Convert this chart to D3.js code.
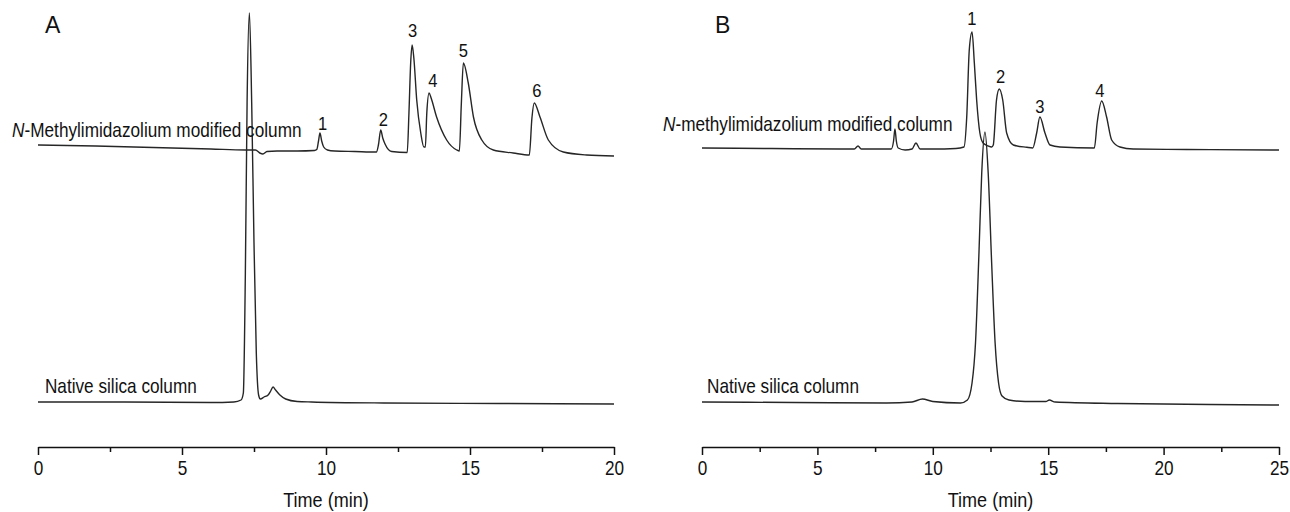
<!DOCTYPE html>
<html>
<head>
<meta charset="utf-8">
<script src="https://cdn.jsdelivr.net/npm/d3@7"></script>
<style>
  body { margin: 0; background: #fff; }
  text { font-family: "Liberation Sans", Arial, sans-serif; fill: #111; }
</style>
</head>
<body>
<svg id="chart" width="1290" height="512"></svg>
<script>
// chromatograms, [time (min), signal (a.u.)]
var modifiedA = [[0,258],[2,257],[4,255.5],[6,254],[7.2,253],[7.55,253],[7.7,250],[7.81,249],[7.95,251.5],[8.3,252],
  [9.0,252],[9.6,252.5],[9.68,253.5],[9.74,262],[9.79,270],[9.85,262],[9.92,256],[10.05,253],[10.3,252],[11.0,251.5],
  [11.75,251],[11.82,258],[11.9,273],[11.97,265],[12.05,259],[12.28,251.5],[12.82,250.5],[12.88,290],[12.94,340],
  [12.99,358],[13.05,345],[13.15,303],[13.29,270],[13.4,256],[13.45,256],[13.5,290],[13.58,310],[13.65,305],
  [13.84,286],[14.19,263],[14.54,253],[14.63,252],[14.7,300],[14.77,340],[14.94,320],[15.12,286],[15.41,263],
  [15.81,253],[16.5,250],[17.06,248],[17.15,285],[17.23,300],[17.43,286],[17.72,263],[18.24,251],[19.05,248],[20,247]];
var nativeA = [[0,1],[3,1],[6,0.5],[6.8,1],[7.05,3],[7.13,10],[7.2,130],[7.26,300],[7.34,390],[7.42,300],[7.5,160],
  [7.58,50],[7.66,8],[7.72,4],[7.85,6],[7.99,8],[8.08,12],[8.16,16],[8.25,13],[8.4,8],[8.6,4],[9.0,1.5],[9.5,1],
  [12,0],[16,-0.5],[20,-1]];
var modifiedB = [[0,255],[3,254.5],[6,254],[6.6,254],[6.76,257],[6.9,254],[8.2,254],[8.3,262],[8.36,274],[8.42,262],
  [8.5,255],[8.8,253],[9.1,254],[9.27,260],[9.45,254],[10,254],[11,254.5],[11.35,256],[11.47,286],[11.58,353],
  [11.7,371],[11.8,340],[11.9,303],[12.04,270],[12.18,260],[12.4,257],[12.55,256],[12.62,258],[12.76,303],[12.88,314],
  [13.03,303],[13.2,270],[13.49,258],[14.07,255.7],[14.33,255],[14.5,270],[14.64,286],[14.86,270],[15.08,258],
  [15.51,256],[17.0,255],[17.12,280],[17.32,302],[17.53,286],[17.75,263],[18.11,256],[18.68,254],[21,253.5],[25,253]];
var nativeB = [[0,1],[4,0.5],[8,0],[9.1,1],[9.55,4],[10,1.5],[11.2,0],[11.5,3],[11.7,20],[11.85,60],[12.0,150],
  [12.12,230],[12.26,271],[12.4,230],[12.55,140],[12.7,60],[12.85,20],[13.0,7],[13.3,3],[14,1.5],[14.9,1.5],
  [15.05,3],[15.3,1],[18,-0.5],[22,-1.5],[25,-2]];

// peak numbers: label, time, signal at the label baseline
var peaksA = [["1",9.88,273],["2",11.99,277],["3",13.01,366],["4",13.71,316],["5",14.77,346],["6",17.32,306]];
var peaksB = [["1",11.69,378],["2",12.94,320],["3",14.64,290],["4",17.24,306]];

// axes
var ticksA = [0,5,10,15,20];
var minorA = [2.5,7.5,12.5,17.5];
var ticksB = [0,5,10,15,20,25];
var minorB = [2.5,7.5,12.5,17.5,22.5];

var svg = d3.select("#chart");
var squeeze = 0.86;   // the figure's font is a narrow grotesque

function put_text(g, x, y, size, anchor, sx) {
  return g.append("text")
    .attr("transform", "translate(" + x + "," + y + ") scale(" + sx + ",1)")
    .attr("font-size", size)
    .attr("text-anchor", anchor);
}

function draw_panel(p) {
  var x = d3.scaleLinear().domain([0, p.ticks[p.ticks.length - 1]]).range(p.xr);
  var y = d3.scaleLinear().domain([0, 390]).range([403, 13]);
  var g = svg.append("g");

  var line = d3.line()
    .x(function(d) { return x(d[0]); })
    .y(function(d) { return y(d[1]); })
    .curve(d3.curveMonotoneX);

  [p.native, p.modified].forEach(function(s) {
    g.append("path")
      .datum(s)
      .attr("fill", "none")
      .attr("stroke", "#262626")
      .attr("stroke-width", 1.4)
      .attr("stroke-linejoin", "round")
      .attr("d", line);
  });

  // minor ticks first, then the labelled axis on top
  g.append("g")
    .attr("transform", "translate(0," + p.axisY + ")")
    .call(d3.axisBottom(x).tickValues(p.minor).tickSize(5).tickSizeOuter(0).tickFormat(""))
    .call(function(a) { a.select(".domain").remove(); a.selectAll("line").attr("stroke-width", 1.5).attr("stroke", "#111"); });

  var ax = g.append("g")
    .attr("transform", "translate(0," + p.axisY + ")")
    .call(d3.axisBottom(x).tickValues(p.ticks).tickSize(8).tickSizeOuter(0).tickPadding(6));
  ax.select(".domain").attr("stroke-width", 1.6).attr("stroke", "#111");
  ax.selectAll("line").attr("stroke-width", 1.5).attr("stroke", "#111");
  ax.selectAll("text")
    .attr("font-size", 20)
    .attr("font-family", "Liberation Sans, Arial, sans-serif")
    .attr("fill", "#111")
    .attr("transform", "scale(" + squeeze + ",1)");

  put_text(g, (p.xr[0] + p.xr[1]) / 2, 507, 21, "middle", squeeze).text("Time (min)");

  put_text(g, p.panelX, 33, 23, "start", 1).text(p.panel);

  var t = put_text(g, x(p.modLabel[0]), y(p.modLabel[1]), 20, "start", squeeze);
  t.append("tspan").attr("font-style", "italic").text("N");
  t.append("tspan").text(p.modText);

  put_text(g, x(p.natLabel[0]), y(p.natLabel[1]), 20, "start", squeeze).text("Native silica column");

  p.peaks.forEach(function(d) {
    put_text(g, x(d[1]), y(d[2]), 18, "middle", 0.92).text(d[0]);
  });
}

draw_panel({
  panel: "A", panelX: 45, xr: [38, 614], axisY: 447,
  ticks: ticksA, minor: minorA,
  modified: modifiedA, native: nativeA, peaks: peaksA,
  modText: "-Methylimidazolium modified column", modLabel: [-0.9, 266],
  natLabel: [0.24, 10]
});

draw_panel({
  panel: "B", panelX: 715, xr: [702, 1279], axisY: 447,
  ticks: ticksB, minor: minorB,
  modified: modifiedB, native: nativeB, peaks: peaksB,
  modText: "-methylimidazolium modified column", modLabel: [-1.69, 272],
  natLabel: [0.22, 10]
});
</script>
</body>
</html>
